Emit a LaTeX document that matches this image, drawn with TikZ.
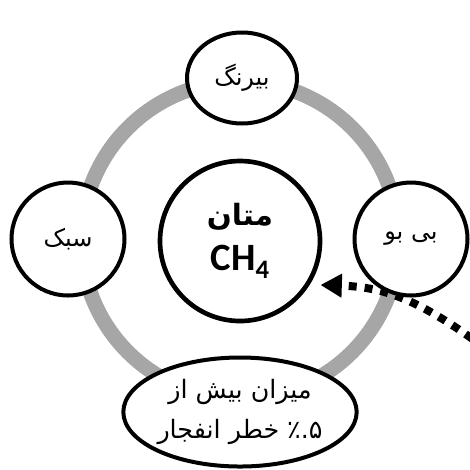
\documentclass[tikz,border=0pt]{standalone}
\usepackage{fontspec}
\usetikzlibrary{shapes.geometric,arrows.meta}
\TeXXeTstate=1
\newfontfamily\fa[Script=Arabic]{DejaVu Sans}
\newfontfamily\lat{Carlito}

\begin{document}
\begin{tikzpicture}[x=0.75pt,y=-0.75pt,
  ring/.style={draw=black!35,line width=11.25pt},
  item/.style={draw,line width=3pt,fill=white,ellipse,inner sep=0pt,font=\fa\fontsize{18}{22}\selectfont},
  hub/.style={draw,line width=3.5pt,fill=white,circle,inner sep=0pt,minimum size=120pt,align=center},
  gas/.style={line width=6pt,dash pattern=on 6pt off 6pt,-{Triangle[length=16pt,width=17pt]}}]
\useasboundingbox (0,0) rectangle (470,469);
\draw[ring] (240,240) circle (158.5);
\node[hub] (ch4) at (240,241) {{\fa\bfseries\fontsize{22}{26}\selectfont\beginR متان\endR}\\[10pt]
  {\lat\bfseries\fontsize{29}{30}\selectfont CH\raisebox{-0.4ex}{\fontsize{20}{20}\selectfont 4}}};
\node[item,minimum width=82.5pt,minimum height=68.25pt] (color) at (242,78) {\beginR بیرنگ\endR};
\node[item,minimum width=84.75pt,minimum height=84.75pt] (taste) at (68,239) {\beginR سبک\endR};
\node[item,minimum width=84.75pt,minimum height=84.75pt] (smell) at (411,239) {\beginR بی بو\endR};
\node[item,minimum width=164.25pt,minimum height=81.75pt,align=center,font=\fa\fontsize{19}{30}\selectfont] (risk) at (240,412)
  {\beginR میزان بیش از\endR\\\beginR ۵.٪ خطر انفجار\endR};
\coordinate (src) at (485,348);
\draw[gas,shorten >=8pt] (src) .. controls (420,300) and (385,287) .. (ch4.-32);
\end{tikzpicture}
\end{document}
